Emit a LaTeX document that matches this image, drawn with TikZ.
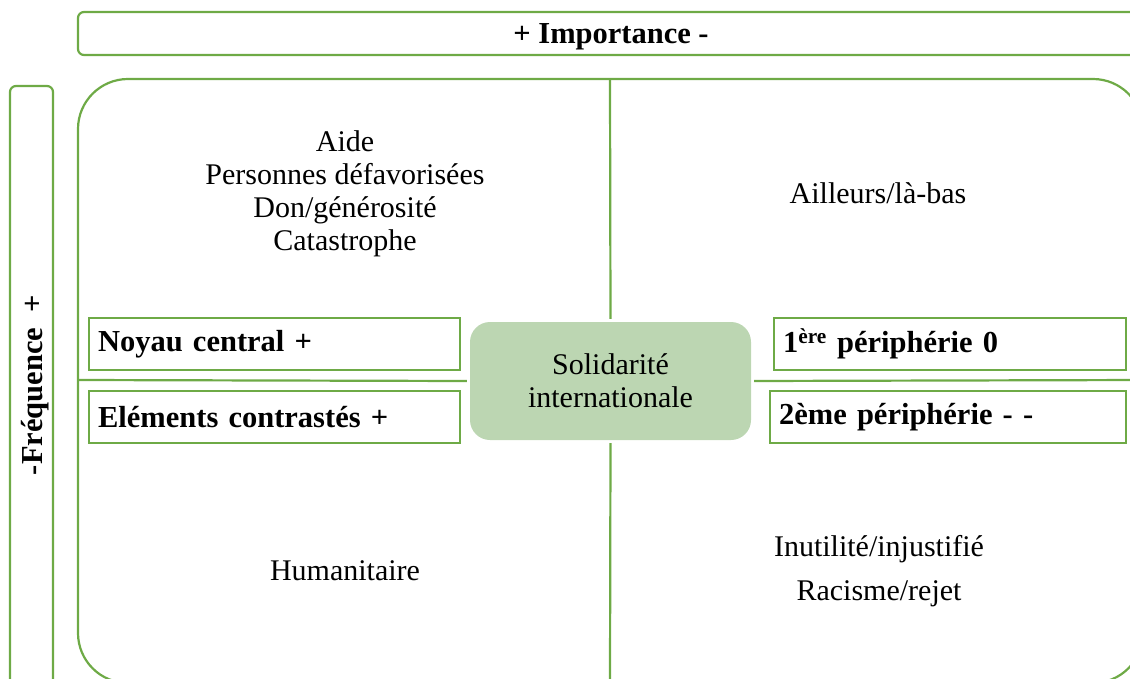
\documentclass[tikz,border=0pt]{standalone}
\usepackage{fontspec}
\setmainfont{Liberation Serif}
\usepackage{tikz}
\definecolor{vert}{RGB}{110,170,70}
\definecolor{vertclair}{RGB}{188,214,178}
\tikzset{
  cadre/.style={draw=vert, line width=2.2pt},
  boite/.style={draw=vert, line width=2.2pt, anchor=west, minimum height=52pt,
    inner xsep=9pt, align=left, font=\fontsize{30.5}{33}\bfseries\selectfont},
  mot/.style={align=center, font=\fontsize{30}{33}\selectfont}
}
\begin{document}
\begin{tikzpicture}[x=1pt,y=-1pt]
\useasboundingbox (0,0) rectangle (1130,678);
\clip (0,0) rectangle (1130,678);
\draw[cadre, rounded corners=6pt] (78,12) rectangle (1144,55);
\node[font=\fontsize{30.5}{33}\bfseries\selectfont] (importance) at (611,37) {+ Importance -};
\node[cadre, rounded corners=6pt, minimum width=43pt, minimum height=608pt] (frequence) at (31.5,390) {};
\node[rotate=90, font=\fontsize{30.5}{33}\bfseries\selectfont] (freqtexte) at (35,385) {-Fréquence \ +};
\draw[cadre, rounded corners=50pt] (78,79) rectangle (1143,683);
\coordinate (haut) at (610,79);
\coordinate (bas) at (610,683);
\coordinate (gauche) at (78,380);
\coordinate (droite) at (1143,380);
\node[fill=vertclair, rounded corners=20pt, minimum width=281pt, minimum height=118pt,
  mot] (solidarite) at (610.5,381) {Solidarité\\internationale};
\draw[cadre, shorten <=3pt] (solidarite.north) -- (haut);
\draw[cadre, shorten <=3pt] (solidarite.south) -- (bas);
\draw[cadre, shorten <=3pt] (solidarite.west) -- (gauche);
\draw[cadre, shorten <=3pt] (solidarite.east) -- (droite);
\node[boite, text width=353pt] (noyau) at (88,344) {Noyau central +};
\node[boite, text width=353pt] (contrastes) at (88,417) {Eléments contrastés +};
\node[boite, text width=334pt] (premiere) at (773,344) {1\textsuperscript{ère} périphérie 0};
\node[boite, text width=338pt] (deuxieme) at (769,417) {2ème périphérie - -};
\node[mot] (zonenoyau) at (345,194) {Aide\\Personnes défavorisées\\Don/générosité\\Catastrophe};
\node[mot] (zonepremiere) at (878,193) {Ailleurs/là-bas};
\node[mot] (zonecontrastes) at (345,571) {Humanitaire};
\node[mot] (zonedeuxieme) at (879,571) {Inutilité/injustifié\\[11pt]Racisme/rejet};
\end{tikzpicture}
\end{document}
